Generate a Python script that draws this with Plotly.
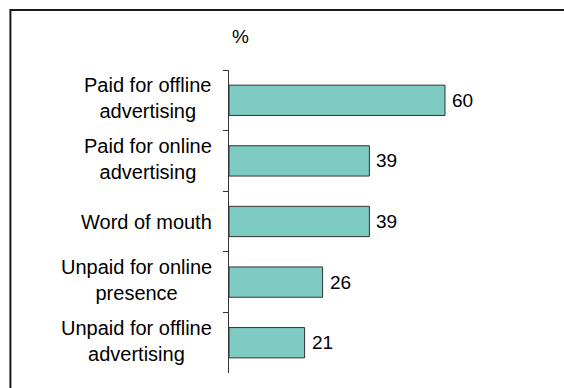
import plotly.graph_objects as go

# Survey categories (top to bottom) and share of respondents, %
categories = [
    "Paid for offline<br>advertising",
    "Paid for online<br>advertising",
    "Word of mouth",
    "Unpaid for online<br>presence",
    "Unpaid for offline<br>advertising",
]
values = [60, 39, 39, 26, 21]
unit_label = "%"

FONT = "Arial, Liberation Sans, sans-serif"
BAR_FILL = "#7ecbc3"
BAR_EDGE = "#333333"

fig = go.Figure(
    go.Bar(
        x=values,
        y=categories,
        orientation="h",
        marker=dict(color=BAR_FILL, line=dict(color=BAR_EDGE, width=1)),
        hoverinfo="skip",
    )
)

annotations = []
# value labels just past the end of each bar
for cat, val in zip(categories, values):
    annotations.append(dict(
        x=val, y=cat, xref="x", yref="y", text=str(val),
        showarrow=False, xanchor="left", yanchor="middle",
        xshift=5, font=dict(family=FONT, size=19, color="#000000"),
    ))

# category labels: block right-aligned to the axis, lines centred
for cat in categories:
    annotations.append(dict(
        x=0, y=cat, xref="paper", yref="y", text=cat,
        showarrow=False, xanchor="right", yanchor="middle", align="center",
        xshift=-15, yshift=2 if "<br>" in cat else 0,
        font=dict(family=FONT, size=20, color="#000000"),
    ))

# unit label above the axis
annotations.append(dict(
    x=0.04, y=1.11, xref="paper", yref="paper", text=unit_label,
    showarrow=False, xanchor="center", yanchor="middle",
    font=dict(family=FONT, size=19, color="#000000"),
))

fig.update_layout(
    width=564, height=388,
    margin=dict(l=229, r=47, t=70, b=15),
    paper_bgcolor="white", plot_bgcolor="white",
    bargap=0.5,
    showlegend=False,
    annotations=annotations,
    shapes=[dict(
        type="rect", xref="paper", yref="paper",
        x0=-0.759, x1=1.2, y0=-0.1, y1=1.198,
        line=dict(color="#1a1a1a", width=2), fillcolor="rgba(0,0,0,0)",
        layer="below",
    )],
    xaxis=dict(
        range=[0, 80], visible=False, showgrid=False, zeroline=False,
    ),
    yaxis=dict(
        autorange="reversed", type="category",
        showticklabels=False, showgrid=False, zeroline=False,
        showline=True, linecolor="#333333", linewidth=1,
        ticks="outside", tickson="boundaries", ticklen=5,
        tickcolor="#333333", tickwidth=1,
    ),
)

fig.write_html("out.html")
